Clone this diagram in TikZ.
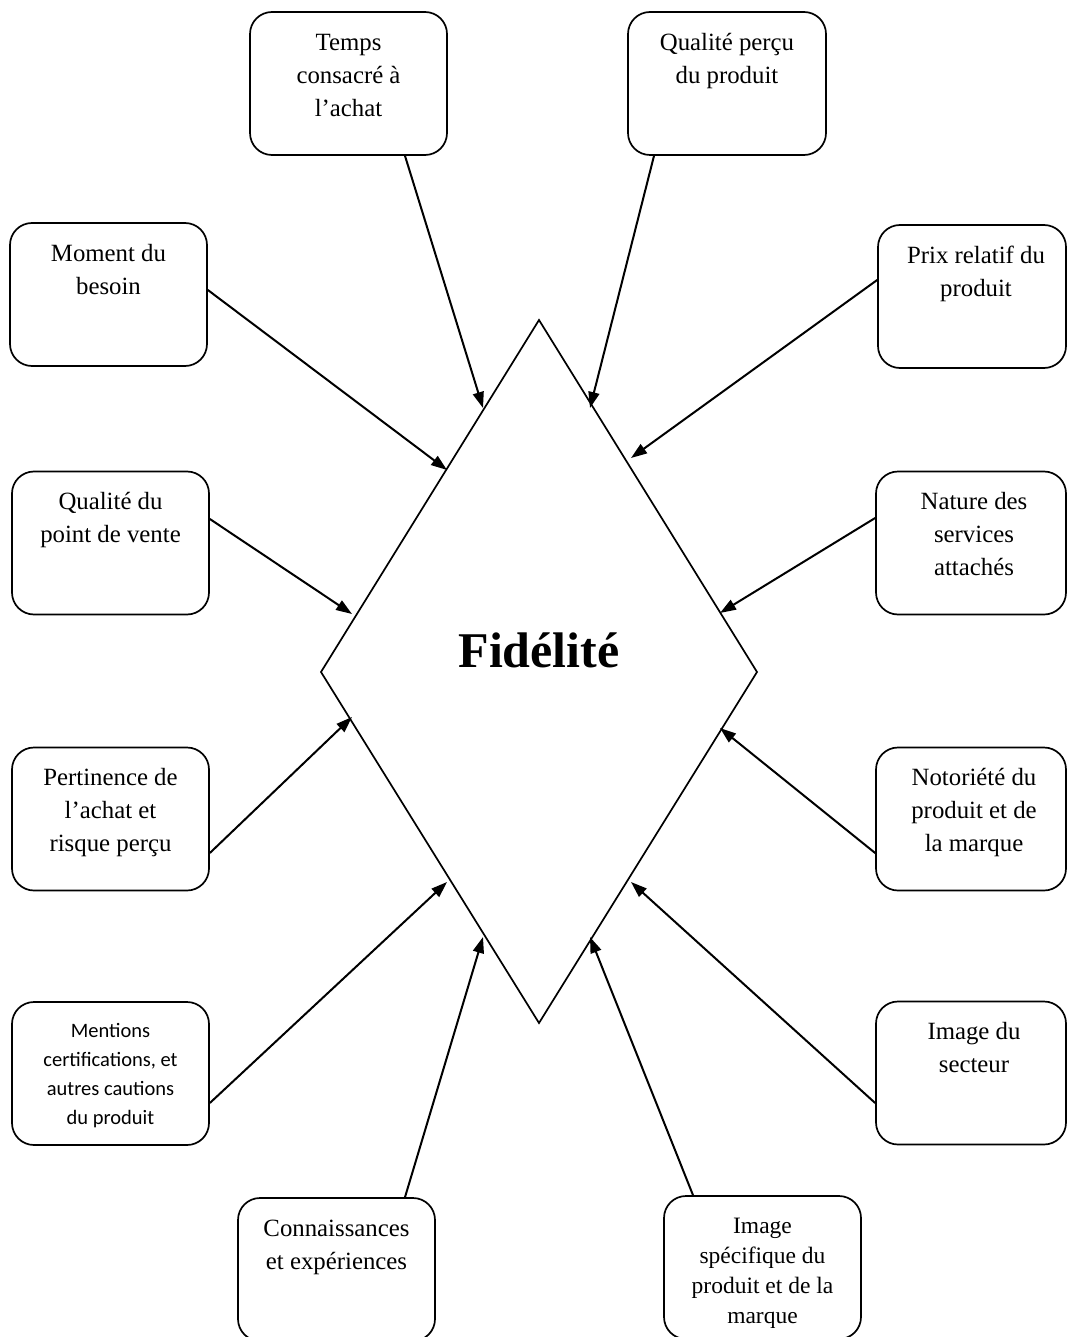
\documentclass[tikz,border=0pt]{standalone}
\usepackage{fontspec}
\setmainfont{Liberation Serif}
\newfontfamily\calib{Carlito}
\usetikzlibrary{arrows.meta,calc}
\newcommand{\bxt}[3]{\parbox[c][143pt][t]{#1}{\centering\vspace*{#2}\strut #3}}
\begin{document}
\begin{tikzpicture}[x=1pt,y=-1pt,
  box/.style={draw, line width=1.7pt, rounded corners=22pt, inner sep=0pt, font=\fontsize{24.8}{33}\selectfont},
  arr/.style={line width=2pt, -{Triangle[length=16pt,width=11pt]}}]
\useasboundingbox (0,0) rectangle (1067,1337);

% diamond corners
\coordinate (T) at (539,320);
\coordinate (R) at (757,672);
\coordinate (B) at (539,1023);
\coordinate (L) at (321,672);
\draw[line width=1.7pt] (T) -- (R) -- (B) -- (L) -- cycle;
\node[font=\bfseries\fontsize{50}{60}\selectfont, anchor=base] (fid) at (539,667) {Fidélité};

% boxes
\node[box] (b1) at (348.5,83.5) {\bxt{197pt}{15pt}{Temps\\consacré à\\l’achat}};
\node[box] (b2) at (727,83.5) {\bxt{198pt}{15pt}{Qualité perçu\\du produit}};
\node[box] (b3) at (108.5,294.5) {\bxt{197pt}{15pt}{Moment du\\besoin}};
\node[box] (b4) at (972,296.5) {\bxt{188pt}{15pt}{\hspace*{8pt}Prix relatif du\\\hspace*{8pt}produit}};
\node[box] (b5) at (110.5,543) {\bxt{197pt}{15pt}{Qualité du\\point de vente}};
\node[box] (b6) at (971,543) {\bxt{190pt}{15pt}{\hspace*{6pt}Nature des\\\hspace*{6pt}services\\\hspace*{6pt}attachés}};
\node[box] (b7) at (110.5,819) {\bxt{197pt}{15pt}{Pertinence de\\l’achat et\\risque perçu}};
\node[box] (b8) at (971,819) {\bxt{190pt}{15pt}{\hspace*{6pt}Notoriété du\\\hspace*{6pt}produit et de\\\hspace*{6pt}la marque}};
\node[box, font=\calib\fontsize{20.5}{29}\selectfont] (b9) at (110.5,1073.5) {\bxt{197pt}{15pt}{Mentions\\certifications, et\\autres cautions\\du produit}};
\node[box] (b10) at (971,1073) {\bxt{190pt}{15pt}{\hspace*{6pt}Image du\\\hspace*{6pt}secteur}};
\node[box] (b11) at (336.5,1269.5) {\bxt{197pt}{15pt}{Connaissances\\et expériences}};
\node[box, font=\fontsize{23.5}{30}\selectfont] (b12) at (762.5,1267.5) {\bxt{197pt}{16pt}{Image\\spécifique du\\produit et de la\\marque}};

% arrow end points on the diamond
\coordinate (e1) at (483,408);
\coordinate (e2) at (590,408);
\coordinate (e3) at (447,470);
\coordinate (e4) at (631,458);
\coordinate (e5) at (352,614);
\coordinate (e6) at (720,613);
\coordinate (e7) at (352,717);
\coordinate (e8) at (720,728);
\coordinate (e9) at (447,882);
\coordinate (e10) at (631,882);
\coordinate (e11) at (483,937);
\coordinate (e12) at (590,937);

% arrows
\draw[arr] ($(b1.south)+(56.5,0)$) -- (e1);
\draw[arr] ($(b2.south)+(-73,0)$) -- (e2);
\draw[arr] ($(b3.east)+(0,-4.5)$) -- (e3);
\draw[arr] ($(b4.west)+(0,-16.5)$) -- (e4);
\draw[arr] ($(b5.east)+(0,-24)$) -- (e5);
\draw[arr] ($(b6.west)+(0,-25)$) -- (e6);
\draw[arr] ($(b7.east)+(0,34)$) -- (e7);
\draw[arr] ($(b8.west)+(0,34)$) -- (e8);
\draw[arr] ($(b9.east)+(0,29.5)$) -- (e9);
\draw[arr] ($(b10.west)+(0,30)$) -- (e10);
\draw[arr] ($(b11.north)+(68.5,0)$) -- (e11);
\draw[arr] ($(b12.north)+(-69.5,0)$) -- (e12);
\end{tikzpicture}
\end{document}
